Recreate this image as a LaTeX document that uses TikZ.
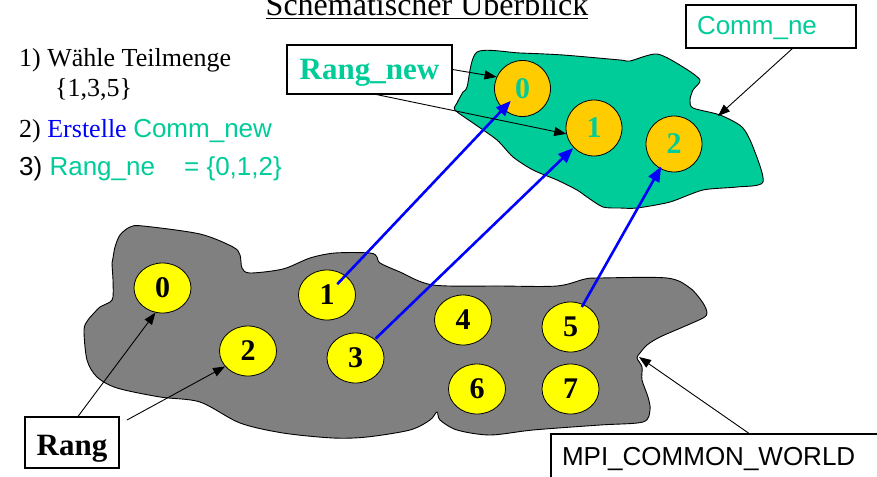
\documentclass[tikz,border=0pt]{standalone}
\usepackage{fontspec}
\setmainfont{Liberation Serif}
\setsansfont{Liberation Sans}
\usetikzlibrary{arrows.meta,shapes.geometric}
\definecolor{mpiteal}{RGB}{0,204,153}
\definecolor{mpiorange}{RGB}{255,204,0}
\definecolor{mpiyellow}{RGB}{255,255,0}
\definecolor{mpigrey}{RGB}{128,128,128}
\definecolor{mpiblue}{RGB}{0,0,255}
\newcommand\myul[1]{\setbox0\hbox{#1}\rlap{\rule[-3pt]{\wd0}{1.4pt}}\box0}
\begin{document}
\begin{tikzpicture}[x=1pt,y=-1pt,
  txt/.style={anchor=base west, inner sep=0pt, font=\fontsize{26}{30}\selectfont},
  lbox/.style={draw=black, line width=1.2pt, fill=white, inner xsep=11pt, inner ysep=0pt},
  ybub/.style={ellipse, draw=black, line width=0.8pt, fill=mpiyellow, minimum width=57pt, minimum height=50pt, inner sep=0pt, font=\fontsize{30}{30}\selectfont\bfseries},
  obub/.style={circle, draw=black, line width=0.8pt, fill=mpiorange, minimum size=56pt, inner sep=0pt, text=mpiteal, font=\fontsize{30}{30}\selectfont\bfseries},
  barrow/.style={draw=mpiblue, line width=2.6pt, -{Triangle[length=15pt,width=12pt]}},
  karrow/.style={draw=black, line width=0.9pt, -{Triangle[length=12pt,width=9pt]}},
  blob/.style={draw=black, line width=0.9pt}
]
\useasboundingbox (0,0) rectangle (877,476);

% title
\node[anchor=base, inner sep=0pt, font=\fontsize{32}{36}\selectfont] (title) at (427,16) {\myul{Schematischer Überblick}};

% left text
\node[txt] (l1) at (19,67) {1) Wähle Teilmenge};
\node[txt] (l1b) at (55,97) {\{1,3,5\}};
\node[txt] (l2) at (19,137) {2) \textcolor{mpiblue}{Erstelle} \textcolor{mpiteal}{\sffamily Comm\_new}};
\node[txt, font=\fontsize{26}{30}\selectfont\sffamily] (l3) at (19,175) {3) \textcolor{mpiteal}{Rang\_ne}};
\node[txt, font=\fontsize{26}{30}\selectfont\sffamily, text=mpiteal] (l3b) at (184,175) {= \{0,1,2\}};

% grey blob (MPI_COMMON_WORLD)
\fill[mpigrey, blob] plot[smooth cycle, tension=0.5] coordinates {
 (130,227) (143,226) (200,234) (233,247) (240,255) (242,268) (250,273) (283,269)
 (310,258) (335,253) (370,253) (377,257) (380,263) (400,272) (433,285) (500,286)
 (557,286) (585,279) (600,278) (667,278) (690,288) (703,303) (707,313) (703,318)
 (683,327) (660,337) (647,345) (640,353) (637,358) (642,367) (642,380) (648,397)
 (650,410) (643,422) (600,425) (533,430) (490,435) (457,430) (440,420) (437,412)
 (430,420) (410,430) (367,437) (333,438) (283,433) (240,423) (200,402) (160,397)
 (117,388) (97,377) (87,360) (84,330) (88,320) (95,312) (100,307) (110,302)
 (113,297) (113,280) (112,263) (113,258) (115,247) (120,235)};

% teal blob (Comm_new)
\fill[mpiteal, blob] plot[smooth cycle, tension=0.45] coordinates {
 (477,52) (520,53) (563,55) (620,60) (630,61) (657,54) (683,67) (700,80)
 (693,90) (690,100) (693,108) (720,115) (742,127) (753,147) (763,182) (737,187)
 (703,190) (670,202) (637,208) (620,208) (603,207) (587,197) (577,190) (557,180)
 (533,170) (513,157) (497,140) (473,123) (455,110) (457,103) (463,92) (467,87)};

\coordinate (tealtip) at (718,116);
\coordinate (greytip) at (639,357);
\coordinate (rgs) at (127,420);

% yellow ranks
\node[ybub] (b0) at (162.5,288) {0};
\node[ybub] (b1) at (327,295) {1};
\node[ybub] (b2) at (248,351) {2};
\node[ybub] (b3) at (355.5,358) {3};
\node[ybub] (b4) at (463,320) {4};
\node[ybub] (b5) at (570.5,327) {5};
\node[ybub] (b6) at (477,389) {6};
\node[ybub] (b7) at (570.5,389) {7};

% orange ranks
\node[obub] (o0) at (522.5,88.5) {0};
\node[obub] (o1) at (594,128) {1};
\node[obub] (o2) at (674,144) {2};

% label boxes
\node[lbox, minimum width=165pt, minimum height=49pt, text width=143pt, align=center,
  text height=23pt, text depth=2pt, text=mpiteal, font=\fontsize{31}{34}\selectfont\bfseries] (rn) at (369.5,69.5) {Rang\_new};
\node[lbox, minimum width=170pt, minimum height=43pt, text width=148pt, align=left,
  text height=19pt, text depth=2pt, text=mpiteal, font=\fontsize{26}{30}\selectfont\sffamily] (cn) at (771,26.5) {Comm\_ne};
\node[lbox, minimum width=94pt, minimum height=51pt, text width=72pt, align=center,
  text height=27pt, text depth=2pt, font=\fontsize{31}{34}\selectfont\bfseries] (rg) at (72,442.5) {Rang};
\node[lbox, minimum width=335pt, minimum height=50pt, text width=313pt, align=left,
  text height=14pt, text depth=2pt, font=\fontsize{26}{30}\selectfont\sffamily] (mp) at (718.5,459) {MPI\_COMMON\_WORLD};

% blue arrows
\draw[barrow, shorten <=15pt, shorten >=17pt] (b1.center) -- (o0.center);
\draw[barrow, shorten <=28pt, shorten >=29pt] (b3.center) -- (o1.center);
\draw[barrow, shorten <=23pt, shorten >=26pt] (b5.center) -- (o2.center);

% black arrows
\draw[karrow] (rn.east) -- (o0.156);
\draw[karrow] (rn.-74) -- (o1.192);
\draw[karrow] (cn.-46) -- (tealtip);
\draw[karrow] (rg.77) -- (b0.-106);
\draw[karrow] (rgs) -- (b2.214);
\draw[karrow] (mp.40) -- (greytip);
\end{tikzpicture}
\end{document}
